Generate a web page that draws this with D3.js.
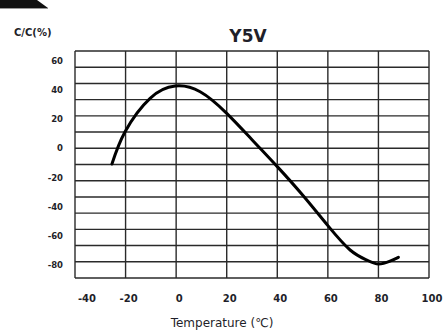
<!DOCTYPE html>
<html><head><meta charset="utf-8">
<script src="https://cdn.jsdelivr.net/npm/d3@7"></script>
<style>body{margin:0;background:#fff}svg{display:block}</style>
</head><body>
<script>
const temps = [-25.4, -20.2, -10.3, -0.4, 9.5, 20, 30, 40, 50, 60, 68.8, 75.4, 80, 84.6, 87.9];
const capChange = [-10.7, 11.5, 34.4, 42.8, 38.9, 24.1, 6, -12.5, -32, -53, -69.7, -76.6, -79.3, -77.3, -74.7];
const xTicks = [-40, -20, 0, 20, 40, 60, 80, 100];
const yTicks = [60, 40, 20, 0, -20, -40, -60, -80];
const title = "Y5V";
const yTitle = "C/C(%)";
const xTitle = "Temperature (\u2103)";

const W = 448, H = 332;
const svg = d3.select("body").append("svg").attr("width", W).attr("height", H);
const pL = 75, pR = 429, pT = 51, pB = 278;
const x = d3.scaleLinear().domain([-40, 100]).range([pL, pR]);
// labels and curve: 60 -> 61px, -80 -> 265px
const y = d3.scaleLinear().domain([60, -80]).range([61, 265]);
const font = "'DejaVu Sans', Verdana, sans-serif";
const ink = "#1f1f2a";

// top-left decoration
svg.append("path").attr("d", "M0,0 L37,0 L48,8 L0,8 Z").attr("fill", "#111");
svg.append("line").attr("x1", 0).attr("x2", 48).attr("y1", 8.5).attr("y2", 8.5).attr("stroke", "#999").attr("stroke-width", 1);

// grid: 14 rows, 7 columns
const rows = d3.range(15).map(i => pT + i * (pB - pT) / 14);
const g = svg.append("g");
g.selectAll("line.h").data(rows).join("line")
  .attr("x1", pL).attr("x2", pR).attr("y1", d => d).attr("y2", d => d)
  .attr("stroke", "#2a2a2a").attr("stroke-width", 1.4);
g.selectAll("line.v").data(xTicks).join("line")
  .attr("x1", d => x(d)).attr("x2", d => x(d)).attr("y1", pT).attr("y2", pB)
  .attr("stroke", "#2a2a2a").attr("stroke-width", 1.4);

// curve
const line = d3.line().x((d, i) => x(temps[i])).y(d => y(d)).curve(d3.curveNatural);
svg.append("path").datum(capChange).attr("d", line)
  .attr("fill", "none").attr("stroke", "#000").attr("stroke-width", 3).attr("stroke-linecap", "round");

// y tick labels
svg.selectAll("text.yt").data(yTicks).join("text")
  .attr("x", 63).attr("y", d => y(d)).attr("dy", "0.35em")
  .attr("text-anchor", "end").attr("font-family", font).attr("font-weight", "bold")
  .attr("font-size", 8.5).attr("fill", ink).text(d => d);

// x tick labels
svg.selectAll("text.xt").data(xTicks).join("text")
  .attr("x", d => x(d) + (d === -40 ? 12 : 3)).attr("y", 298).attr("dy", "0.35em")
  .attr("text-anchor", "middle").attr("font-family", font).attr("font-weight", "bold")
  .attr("font-size", 10).attr("fill", ink).text(d => d);

// titles
svg.append("text").attr("x", 248).attr("y", 42).attr("text-anchor", "middle")
  .attr("font-family", font).attr("font-weight", "bold").attr("font-size", 17).attr("fill", ink).text(title);
svg.append("text").attr("x", 14).attr("y", 36)
  .attr("font-family", font).attr("font-weight", "bold").attr("font-size", 10).attr("fill", ink).text(yTitle);
svg.append("text").attr("x", 222).attr("y", 327).attr("text-anchor", "middle")
  .attr("font-family", font).attr("font-size", 12).attr("fill", ink).text(xTitle);
</script>
</body></html>
